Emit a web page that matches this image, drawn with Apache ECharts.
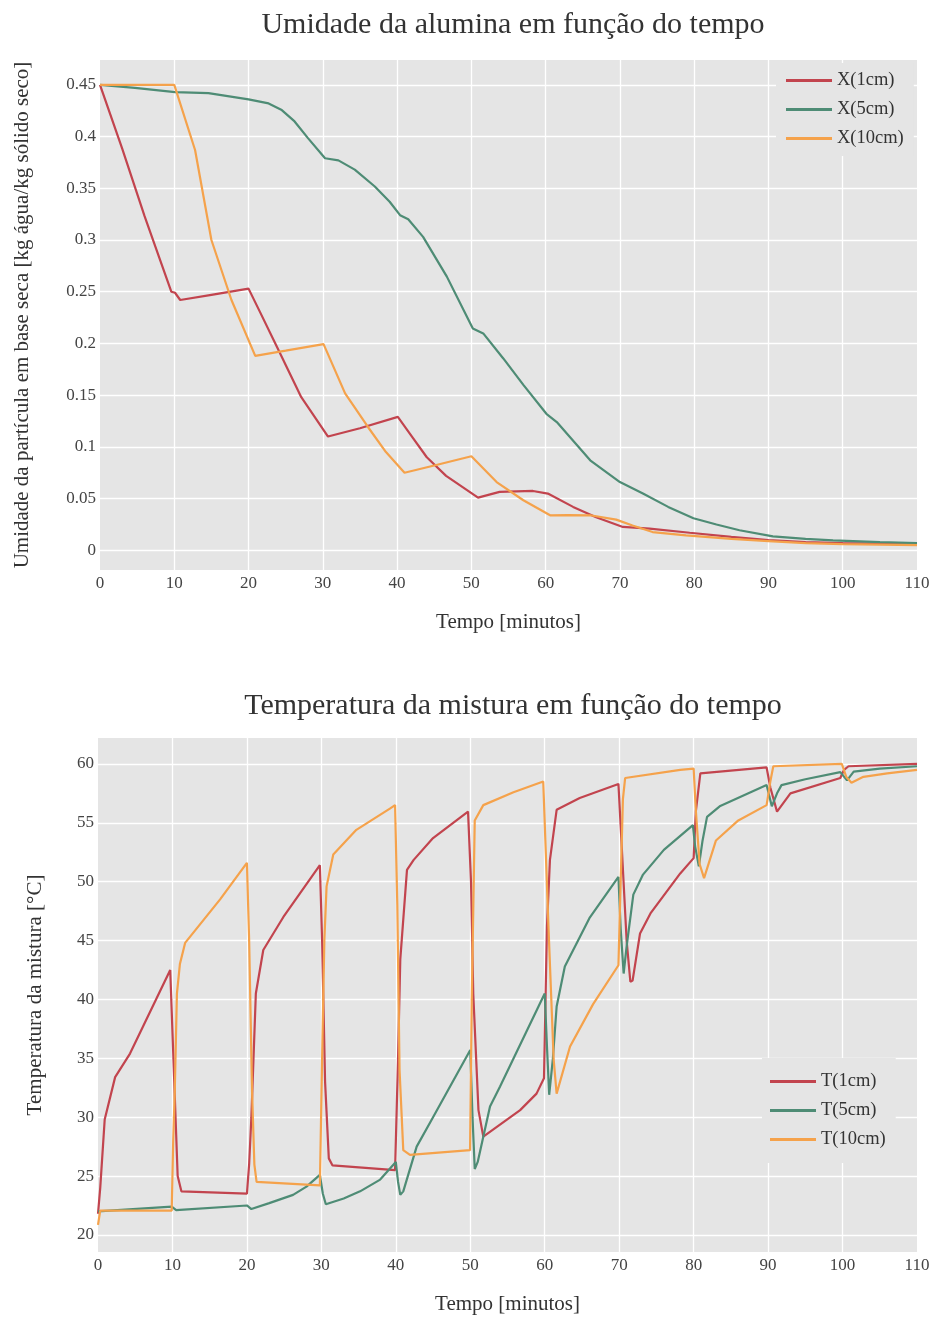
<!DOCTYPE html>
<html>
<head>
<meta charset="utf-8">
<title>Secagem da alumina</title>
<script src="https://cdn.jsdelivr.net/npm/echarts@6/dist/echarts.min.js"></script>
<style>
  html, body { margin: 0; padding: 0; background: #fff; }
  #chart { width: 935px; height: 1319px; }
</style>
</head>
<body>
<div id="chart"></div>
<script>
// umidade da particula [kg agua/kg solido seco] x tempo [min]
const tX1 = [0, 3, 6, 9.6, 10.1, 10.8, 15, 20, 21.5, 23.8, 27.1, 30.7, 35, 40.1, 42, 44, 46.6, 50.9, 53.8, 58.3, 60.3, 63.7, 66.8, 70.4, 74, 79.4, 85, 90, 95, 100, 105, 110];
const X1 = [0.45, 0.388, 0.323, 0.25, 0.249, 0.242, 0.247, 0.253, 0.231, 0.197, 0.148, 0.110, 0.118, 0.129, 0.110, 0.090, 0.072, 0.051, 0.0565, 0.0574, 0.0549, 0.042, 0.032, 0.0226, 0.021, 0.017, 0.013, 0.010, 0.008, 0.007, 0.0065, 0.006];

const tX5 = [0, 4.7, 10.1, 14.6, 20, 22.7, 24.4, 26.2, 28, 30.3, 32.1, 34.3, 37, 39, 40.4, 41.5, 43.5, 46.7, 50.2, 51.6, 54.3, 57, 60.1, 61.5, 66, 70, 73.1, 76.5, 79.9, 83, 86.1, 90.6, 95, 98.7, 105, 110];
const X5 = [0.45, 0.447, 0.443, 0.442, 0.436, 0.432, 0.426, 0.4146, 0.3985, 0.379, 0.377, 0.368, 0.3517, 0.337, 0.324, 0.320, 0.303, 0.2646, 0.2145, 0.2097, 0.1855, 0.160, 0.132, 0.124, 0.087, 0.066, 0.055, 0.042, 0.031, 0.025, 0.0194, 0.0135, 0.011, 0.0097, 0.008, 0.007];

const tX10 = [0, 10, 12.8, 15, 17.7, 20.9, 25, 30.1, 33, 36.1, 38.5, 41, 45, 50, 53.4, 57, 60.6, 63, 66, 69.5, 71.7, 74.4, 78.9, 85, 90, 95, 100, 105, 110];
const X10 = [0.45, 0.45, 0.387, 0.300, 0.242, 0.188, 0.193, 0.1994, 0.1517, 0.119, 0.095, 0.075, 0.082, 0.091, 0.066, 0.0484, 0.0339, 0.034, 0.0339, 0.0297, 0.024, 0.0177, 0.0145, 0.011, 0.009, 0.007, 0.006, 0.0055, 0.005];

// temperatura da mistura [C] x tempo [min]
const tT1 = [0, 0.3, 0.9, 2.3, 4.3, 9.7, 9.95, 10.3, 10.7, 11.2, 20, 20.3, 20.6, 21.2, 22.2, 24.9, 29.8, 30.1, 30.5, 31.0, 31.5, 39.9, 40.3, 40.6, 41.5, 42.4, 45, 49.7, 49.9, 50.1, 50.4, 51.1, 51.75, 56.7, 58.9, 59.9, 60.3, 60.7, 61.6, 64.7, 69.9, 70.3, 71.0, 71.5, 71.8, 72.8, 74.2, 78.2, 80.0, 80.3, 80.9, 89.8, 90.3, 91.2, 93, 99.7, 100.2, 100.8, 110];
const T1 = [21.8, 24, 29.8, 33.4, 35.4, 42.5, 42.4, 32, 25, 23.7, 23.5, 26, 30, 40.5, 44.2, 47.0, 51.4, 45, 33, 26.5, 25.9, 25.5, 35, 43.4, 51.0, 51.85, 53.7, 55.95, 56, 50, 40.5, 30.6, 28.35, 30.6, 32.0, 33.3, 46.2, 51.85, 56.1, 57.1, 58.3, 53.5, 45.0, 41.5, 41.6, 45.6, 47.3, 50.7, 52.0, 56, 59.2, 59.7, 58, 55.95, 57.5, 58.8, 59.5, 59.8, 60.0];

const tT5 = [0, 9.9, 10.5, 20.0, 20.6, 23, 26.2, 28, 29.8, 30.2, 30.6, 33, 35.2, 37.9, 40.0, 40.3, 40.6, 41, 42.8, 45, 50.0, 50.3, 50.6, 51, 52.65, 54, 60.0, 60.3, 60.6, 61.1, 61.6, 62.7, 66, 69.9, 70.2, 70.6, 71.0, 71.9, 73.2, 76, 79.9, 80.2, 80.7, 81.2, 81.8, 83.5, 89.8, 90.5, 91.2, 91.8, 95, 99.7, 100.6, 101.5, 105, 110];
const T5 = [22.0, 22.4, 22.1, 22.5, 22.2, 22.7, 23.4, 24.1, 25.1, 23.5, 22.6, 23.1, 23.7, 24.7, 26.2, 24.5, 23.4, 23.7, 27.5, 30, 35.7, 30, 25.6, 26.2, 30.9, 32.6, 40.5, 36, 31.9, 35, 39.4, 42.8, 46.9, 50.4, 46, 42.2, 44.5, 48.9, 50.6, 52.7, 54.8, 53, 51.3, 53.5, 55.5, 56.4, 58.2, 56.4, 57.5, 58.2, 58.7, 59.3, 58.6, 59.35, 59.6, 59.8];

const tT10 = [0, 0.3, 9.9, 10.1, 10.3, 10.6, 11.0, 11.7, 16.4, 20.0, 20.3, 20.7, 21.0, 21.3, 29.8, 30.1, 30.4, 30.7, 31.6, 34.7, 39.2, 39.9, 40.2, 40.5, 41.0, 41.9, 49.97, 50.2, 50.6, 51.75, 55.8, 59.8, 60.5, 61.2, 61.6, 63.4, 66.5, 69.9, 70.2, 70.5, 70.8, 78.2, 80.0, 80.3, 80.8, 81.4, 83.0, 86, 89.8, 90.3, 90.7, 99.9, 100.5, 101.2, 102.8, 106, 110];
const T10 = [20.85, 22.06, 22.06, 28, 32, 40.5, 43, 44.8, 48.5, 51.6, 45, 32, 26, 24.5, 24.2, 35, 45, 49.6, 52.3, 54.4, 56.2, 56.5, 48, 34, 27.2, 26.8, 27.2, 40, 55.2, 56.5, 57.6, 58.5, 46.2, 34.9, 32.0, 36.0, 39.6, 42.9, 50, 57, 58.8, 59.5, 59.6, 56, 51.5, 50.3, 53.5, 55.2, 56.5, 58.5, 59.8, 60.0, 58.9, 58.4, 58.9, 59.2, 59.5];

const pares = (ts, vs) => ts.map((t, i) => [t, vs[i]]);

const serif = '"Liberation Serif", "Times New Roman", serif';
const RED = '#C2444E', GREEN = '#4E8C75', ORANGE = '#F5A24B';
const txt = '#444';

const chart = echarts.init(document.getElementById('chart'));

function eixoX(gi) {
  return {
    type: 'value', gridIndex: gi, min: 0, max: 110, interval: 10,
    name: 'Tempo [minutos]', nameLocation: 'middle', nameGap: 42,
    nameTextStyle: { fontFamily: serif, fontSize: 21, color: '#333' },
    axisLine: { show: false }, axisTick: { show: false },
    axisLabel: { fontFamily: serif, fontSize: 17, color: txt, margin: 5 },
    splitLine: { show: true, showMinLine: false, showMaxLine: false, lineStyle: { color: '#fff', width: 1.3 } }
  };
}

function eixoY(gi, nome, min, max, splits, gap) {
  return {
    type: 'value', gridIndex: gi, min: min, max: max, splitNumber: splits,
    name: nome, nameLocation: 'middle', nameGap: gap,
    nameTextStyle: { fontFamily: serif, fontSize: 21, color: '#333' },
    axisLine: { show: false }, axisTick: { show: false },
    axisLabel: { fontFamily: serif, fontSize: 17, color: txt, margin: 4, showMinLabel: false, showMaxLabel: false },
    splitLine: { show: true, showMinLine: false, showMaxLine: false, lineStyle: { color: '#fff', width: 1.3 } }
  };
}

function legenda(nomes, left, top, padding) {
  return {
    data: nomes, orient: 'vertical', left: left, top: top, padding: padding,
    icon: 'rect', itemWidth: 46, itemHeight: 3, itemGap: 10,
    backgroundColor: '#E5E5E5',
    textStyle: { fontFamily: serif, fontSize: 18.5, color: '#333' }
  };
}

function linha(nome, dados, cor, xi) {
  return {
    name: nome, type: 'line', xAxisIndex: xi, yAxisIndex: xi,
    data: dados, symbol: 'none', smooth: false,
    lineStyle: { color: cor, width: 2.2 }, itemStyle: { color: cor }
  };
}

const option = {
  animation: false,
  backgroundColor: '#fff',
  title: [
    { text: 'Umidade da alumina em função do tempo', left: 508, top: 5, textAlign: 'center',
      textStyle: { fontFamily: serif, fontSize: 30, fontWeight: 'normal', color: '#333' } },
    { text: 'Temperatura da mistura em função do tempo', left: 508, top: 686, textAlign: 'center',
      textStyle: { fontFamily: serif, fontSize: 30, fontWeight: 'normal', color: '#333' } }
  ],
  grid: [
    { left: 100, right: 18, top: 60, height: 510, show: true, backgroundColor: '#E5E5E5', borderWidth: 0 },
    { left: 98, right: 18, top: 738, height: 514, show: true, backgroundColor: '#E5E5E5', borderWidth: 0 }
  ],
  legend: [
    legenda(['X(1cm)', 'X(5cm)', 'X(10cm)'], 776, 63, [8, 10]),
    legenda(['T(1cm)', 'T(5cm)', 'T(10cm)'], 762, 1058, [14, 10, 14, 8])
  ],
  xAxis: [eixoX(0), eixoX(1)],
  yAxis: [
    eixoY(0, 'Umidade da partícula em base seca [kg água/kg sólido seco]', -0.019, 0.474, 10, 67),
    eixoY(1, 'Temperatura da mistura [°C]', 18.55, 62.2, 9, 52)
  ],
  series: [
    linha('X(1cm)', pares(tX1, X1), RED, 0),
    linha('X(5cm)', pares(tX5, X5), GREEN, 0),
    linha('X(10cm)', pares(tX10, X10), ORANGE, 0),
    linha('T(1cm)', pares(tT1, T1), RED, 1),
    linha('T(5cm)', pares(tT5, T5), GREEN, 1),
    linha('T(10cm)', pares(tT10, T10), ORANGE, 1)
  ]
};

chart.setOption(option);
</script>
</body>
</html>
